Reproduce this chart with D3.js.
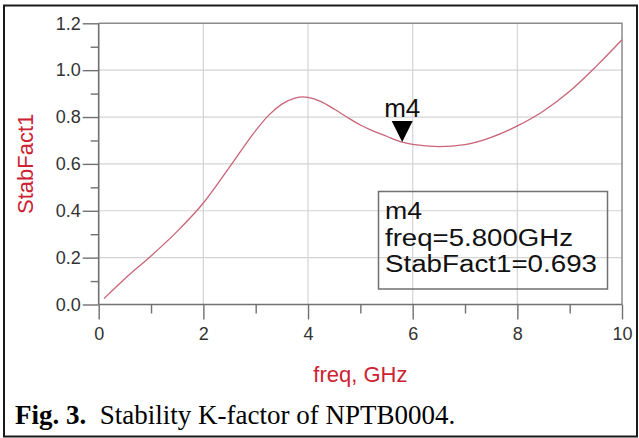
<!DOCTYPE html>
<html>
<head>
<meta charset="utf-8">
<script src="https://cdn.jsdelivr.net/npm/d3@7"></script>
<style>
  html, body { margin: 0; padding: 0; background: #fff; }
  svg { display: block; }
</style>
</head>
<body>
<svg id="chart" width="639" height="438"></svg>
<script>
// ---- data ----
const freq = [0.1, 0.5, 1.0, 1.5, 2.0, 2.5, 3.0, 3.25, 3.5, 3.75, 3.9, 4.0, 4.25, 4.5, 4.75, 5.0, 5.25, 5.5, 5.8, 6.0, 6.5, 7.0, 7.5, 8.0, 8.5, 9.0, 9.5, 10.0];
const stabFact1 = [0.025, 0.11, 0.207, 0.312, 0.433, 0.586, 0.742, 0.808, 0.855, 0.881, 0.886, 0.884, 0.866, 0.834, 0.799, 0.766, 0.74, 0.718, 0.693, 0.683, 0.674, 0.682, 0.713, 0.762, 0.826, 0.91, 1.015, 1.13];
const xTicks = [0, 2, 4, 6, 8, 10];
const xMinorTicks = [1, 3, 5, 7, 9];
const yTicks = [0.0, 0.2, 0.4, 0.6, 0.8, 1.0, 1.2];
const yMinorTicks = [0.1, 0.3, 0.5, 0.7, 0.9, 1.1];
const markerName = "m4";
const markerFreq = 5.8;
const markerValue = 0.693;
const markerLines = ["m4", "freq=5.800GHz", "StabFact1=0.693"];
const xLabel = "freq, GHz";
const yLabel = "StabFact1";
const captionBold = "Fig. 3.";
const captionText = "Stability K-factor of NPTB0004.";

// ---- layout ----
const svg = d3.select("#chart");
const pLeft = 98.7, pRight = 622, pTop = 23.3, pBottom = 304.5;
const x = d3.scaleLinear().domain([0, 10]).range([pLeft, pRight]);
const y = d3.scaleLinear().domain([0, 1.2]).range([pBottom, pTop]);
const red = "#cc2233";
const sans = "'Liberation Sans', Arial, sans-serif";
const serif = "'Liberation Serif', 'Times New Roman', serif";

// outer frame
svg.append("rect").attr("x", 4).attr("y", 5.5).attr("width", 633).attr("height", 431)
  .attr("fill", "none").attr("stroke", "#1a1a1a").attr("stroke-width", 2);

// grid
const g = svg.append("g");
g.selectAll(".vgrid").data(xTicks.filter(d => d > 0 && d < 10)).join("line")
  .attr("x1", d => x(d)).attr("x2", d => x(d)).attr("y1", pTop).attr("y2", pBottom)
  .attr("stroke", "#d4d4d4").attr("stroke-width", 1.2);
g.selectAll(".hgrid").data(yTicks.filter(d => d > 0 && d < 1.2)).join("line")
  .attr("x1", pLeft).attr("x2", pRight).attr("y1", d => y(d)).attr("y2", d => y(d))
  .attr("stroke", "#d4d4d4").attr("stroke-width", 1.2);

// top & right border
g.append("path").attr("d", `M${pLeft},${pTop}H${pRight}V${pBottom}`)
  .attr("fill", "none").attr("stroke", "#8a8a8a").attr("stroke-width", 1.5);

// axes
const yAxis = d3.axisLeft(y).tickValues(yTicks).tickFormat(d3.format(".1f")).tickSize(16).tickPadding(2);
const yAx = svg.append("g").attr("transform", `translate(${pLeft},0)`).call(yAxis);
const yMinor = d3.axisLeft(y).tickValues(yMinorTicks).tickFormat("").tickSize(8);
const yAxm = svg.append("g").attr("transform", `translate(${pLeft},0)`).call(yMinor);

const xAxis = d3.axisBottom(x).tickValues(xTicks).tickFormat(d3.format("d")).tickSize(15).tickPadding(8);
const xAx = svg.append("g").attr("transform", `translate(0,${pBottom})`).call(xAxis);
const xMinor = d3.axisBottom(x).tickValues(xMinorTicks).tickFormat("").tickSize(9);
const xAxm = svg.append("g").attr("transform", `translate(0,${pBottom})`).call(xMinor);

[yAx, yAxm, xAx, xAxm].forEach(a => {
  a.select(".domain").attr("stroke", "#707070").attr("stroke-width", 1.6);
  a.selectAll(".tick line").attr("stroke", "#707070").attr("stroke-width", 1.4);
  a.selectAll("text").attr("font-family", sans).attr("font-size", 18).attr("fill", "#333");
});
yAxm.select(".domain").remove();
xAxm.select(".domain").remove();
xAx.select(".domain").attr("d", `M${pLeft},0H${pRight}`);
yAx.select(".domain").attr("d", `M0,${pBottom}V${pTop}`);

// curve
const pts = freq.map((f, i) => [f, stabFact1[i]]);
svg.append("path").datum(pts)
  .attr("fill", "none").attr("stroke", "#c86478").attr("stroke-width", 1.3)
  .attr("d", d3.line().x(d => x(d[0])).y(d => y(d[1])).curve(d3.curveMonotoneX));

// marker
const mx = x(markerFreq), my = y(markerValue);
svg.append("path").attr("d", `M${mx},${my}L${mx - 10.5},${my - 21}L${mx + 10.5},${my - 21}Z`).attr("fill", "#000");
svg.append("text").attr("x", mx).attr("y", my - 25).attr("text-anchor", "middle")
  .attr("font-family", sans).attr("font-size", 26).attr("fill", "#111").text(markerName);

// marker readout box
const lineWidths = [37, 188, 212];
svg.append("rect").attr("x", 378.5).attr("y", 191.5).attr("width", 229).attr("height", 97.5)
  .attr("fill", "none").attr("stroke", "#707070").attr("stroke-width", 1.5);
svg.selectAll(".mline").data(markerLines).join("text")
  .attr("x", 385).attr("y", (d, i) => 219 + i * 26.7)
  .attr("font-family", sans).attr("font-size", 23).attr("fill", "#111")
  .attr("textLength", (d, i) => lineWidths[i]).attr("lengthAdjust", "spacingAndGlyphs")
  .text(d => d);

// axis labels
svg.append("text").attr("x", (pLeft + pRight) / 2).attr("y", 382).attr("text-anchor", "middle")
  .attr("font-family", sans).attr("font-size", 22).attr("fill", red).text(xLabel);
svg.append("text").attr("transform", `translate(33,${(pTop + pBottom) / 2}) rotate(-90)`)
  .attr("text-anchor", "middle").attr("font-family", sans).attr("font-size", 22).attr("fill", red).text(yLabel);

// caption
const cap = svg.append("text").attr("x", 15).attr("y", 424)
  .attr("font-family", serif).attr("font-size", 27).attr("fill", "#000");
cap.append("tspan").attr("font-weight", "bold").text(captionBold);
cap.append("tspan").text("\u00a0 " + captionText);
</script>
</body>
</html>
